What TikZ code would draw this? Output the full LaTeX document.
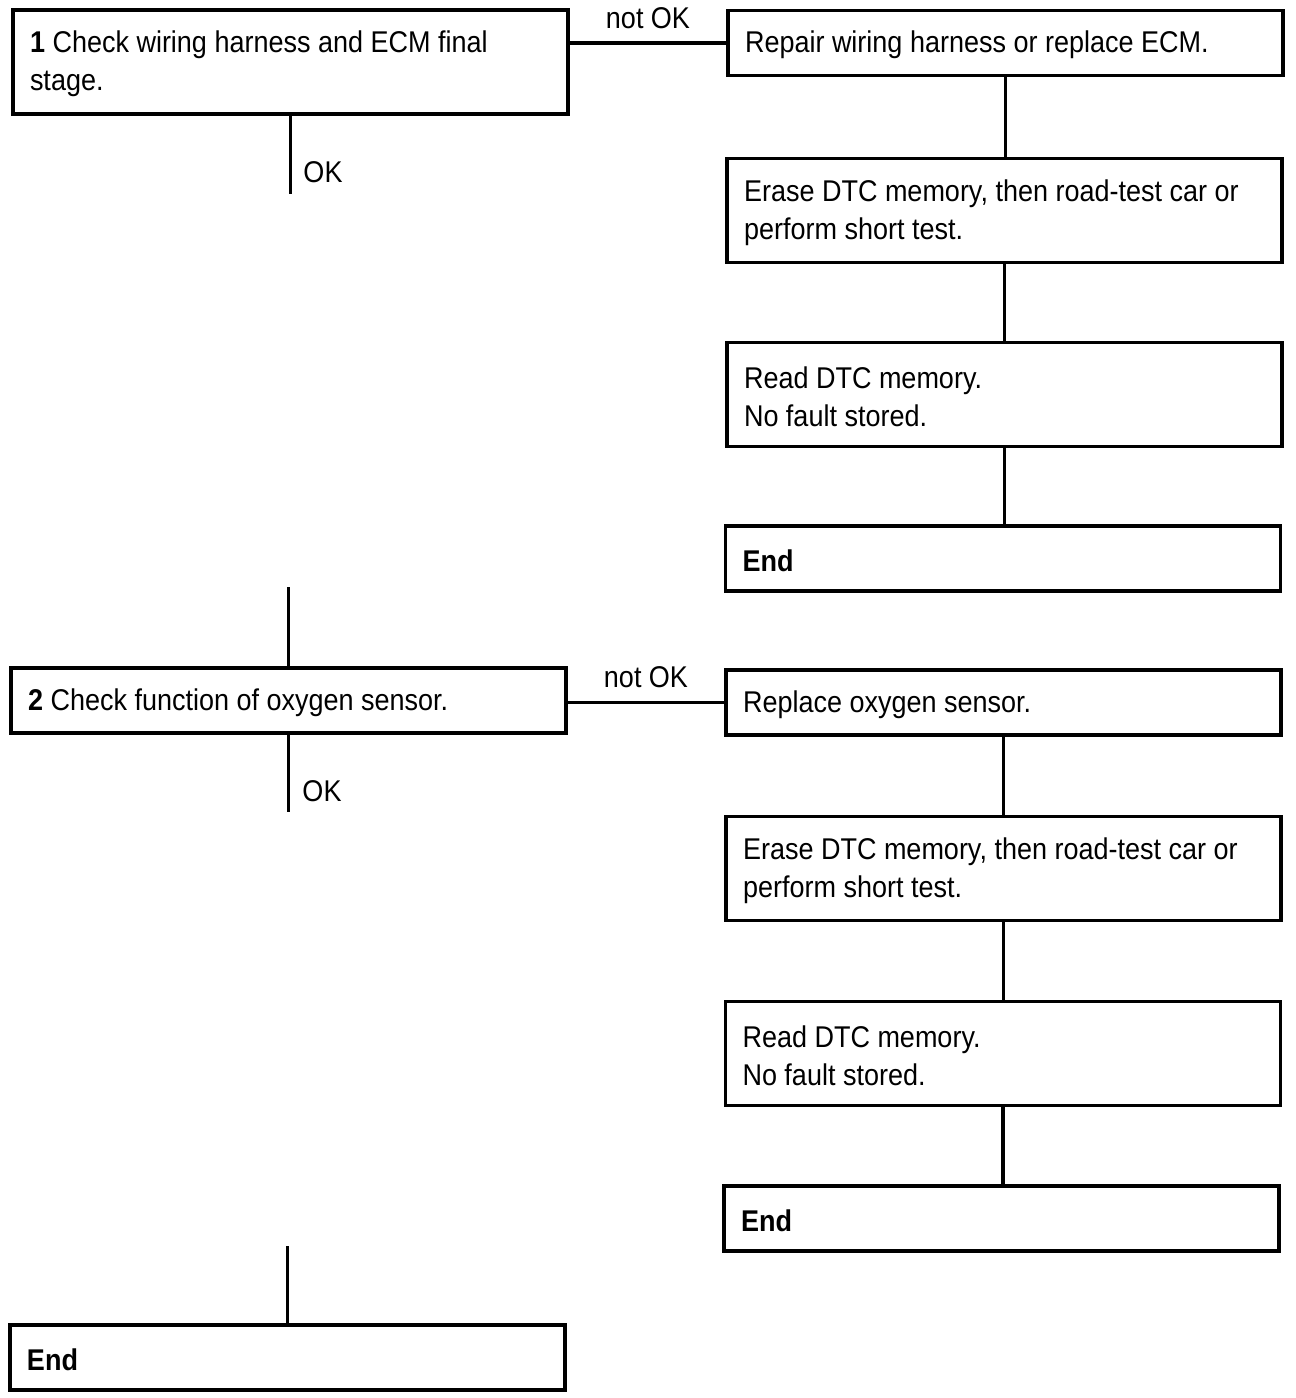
\documentclass[tikz,border=0pt]{standalone}
\usepackage{fontspec}
\setmainfont{Liberation Sans}[FakeStretch=0.9]
\begin{document}
\begin{tikzpicture}[x=1pt,y=-1pt,
  box/.style={draw,line width=3.2pt,rectangle,inner xsep=17pt,inner ysep=2pt,
    text width=521pt,align=flush left,font=\fontsize{30}{38}\selectfont,minimum width=555pt,
    execute at begin node={\rule{0pt}{26pt}}},
  tall/.style={minimum height=104pt},
  short/.style={minimum height=65pt},
  wire/.style={line width=3.2pt},
  lbl/.style={font=\fontsize{30}{38}\selectfont,inner sep=0pt}
]
\useasboundingbox (0,0) rectangle (1296,1398);
% left column
\node[box,tall]  (b1) at (290.5,62) {\textbf{1} Check wiring harness and ECM final\\stage.};
\node[box,short] (b2) at (288.5,700.5) {\textbf{2} Check function of oxygen sensor.};
\node[box,short] (e3) at (287.5,1357.5) {\textbf{End}};
% right column, first branch
\node[box,short] (r1) at (1005.5,43) {Repair wiring harness or replace ECM.};
\node[box,tall]  (er1) at (1004.5,210.5) {Erase DTC memory, then road-test car or\\perform short test.};
\node[box,tall]  (rd1) at (1004.5,394.5) {Read DTC memory.\\No fault stored.};
\node[box,short] (e1) at (1003,558.5) {\textbf{End}};
% right column, second branch
\node[box,short] (r2) at (1003.5,702.5) {Replace oxygen sensor.};
\node[box,tall]  (er2) at (1003.5,868.5) {Erase DTC memory, then road-test car or\\perform short test.};
\node[box,tall]  (rd2) at (1003,1053.5) {Read DTC memory.\\No fault stored.};
\node[box,short] (e2) at (1001.5,1218.5) {\textbf{End}};
% connectors
\draw[wire] (b1.east |- r1.west) -- node[lbl,above=13pt] (no1) {not OK} (r1.west);
\draw[wire] (b2.east |- r2.west) -- node[lbl,above=13pt] (no2) {not OK} (r2.west);
\draw[wire] (r1.south) -- (r1.south |- er1.north);
\draw[wire] (er1.south) -- (er1.south |- rd1.north);
\draw[wire] (rd1.south) -- (rd1.south |- e1.north);
\draw[wire] (r2.south) -- (r2.south |- er2.north);
\draw[wire] (er2.south) -- (er2.south |- rd2.north);
\draw[wire] (rd2.south) -- (rd2.south |- e2.north);
% OK stubs
\coordinate (ok1) at (291,194);
\coordinate (ok2) at (289,812);
\coordinate (s2) at (290,587);
\coordinate (s3) at (288,1246);
\draw[wire] (b1.south) -- (b1.south |- ok1);
\draw[wire] (b2.south) -- (b2.south |- ok2);
\draw[wire] (b2.north) -- (b2.north |- s2);
\draw[wire] (e3.north) -- (e3.north |- s3);
\node[lbl] (okl1) at (323,172) {OK};
\node[lbl] (okl2) at (322,791) {OK};
\end{tikzpicture}
\end{document}
